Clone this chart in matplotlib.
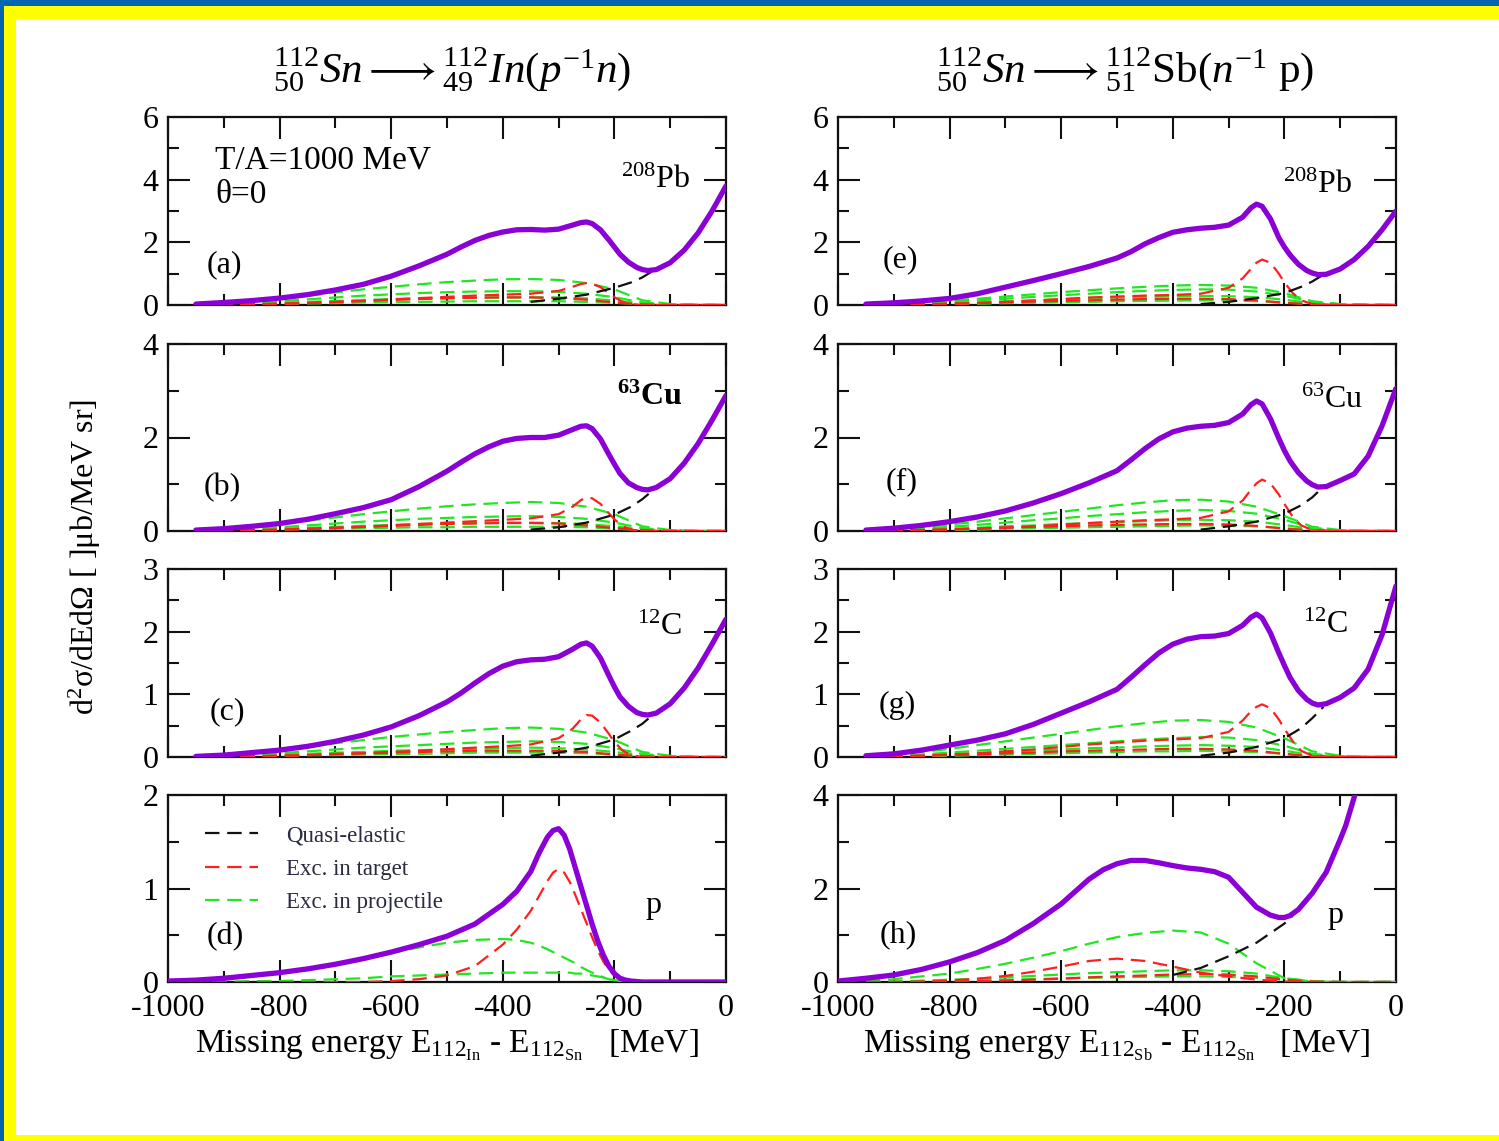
import matplotlib
matplotlib.use('Agg')
import matplotlib.pyplot as plt
from matplotlib.lines import Line2D
from matplotlib.patches import Rectangle
from matplotlib.ticker import MultipleLocator

plt.rcParams['font.family'] = ['Liberation Serif', 'DejaVu Serif']
plt.rcParams['mathtext.fontset'] = 'custom'
plt.rcParams['mathtext.rm'] = 'Liberation Serif'
plt.rcParams['mathtext.it'] = 'Liberation Serif:italic'
plt.rcParams['mathtext.bf'] = 'Liberation Serif:bold'
plt.rcParams['axes.unicode_minus'] = False

# ---------------- data ----------------
XT = [-950, -900, -850, -800, -750, -700, -650, -600, -550, -500, -475, -450, -425, -400,
      -375, -350, -325, -300, -275, -260, -250, -240, -225, -210, -200, -190, -175, -160,
      -150, -140, -125, -100, -75, -50, -25, 0]
XB = [-950, -900, -850, -800, -750, -700, -650, -600, -550, -500, -450, -400, -350, -300,
      -250, -200, -150, -100, -50, 0]
XR = [-950, -850, -750, -650, -550, -450, -400, -350, -300, -275, -260, -250, -240, -225,
      -210, -200, -185, -170, -150, -100, 0]
XQ = [-350, -300, -250, -200, -170, -150, -130]
XD = [-1000, -950, -900, -850, -800, -750, -700, -650, -600, -550, -500, -450, -400, -375,
      -350, -335, -320, -310, -300, -290, -280, -270, -260, -250, -240, -230, -220, -210,
      -200, -190, -180, -170, -150, -100, -50, 0]
XH = [-1000, -950, -900, -850, -800, -750, -700, -650, -600, -550, -525, -500, -475, -450,
      -425, -400, -375, -350, -325, -300, -275, -250, -225, -210, -200, -190, -175, -150,
      -125, -100, -90, -80, -70]
XQH = [-400, -350, -300, -250, -200, -185]

# (a) 208Pb, In channel
a_tot = [0.03, 0.08, 0.14, 0.22, 0.33, 0.48, 0.66, 0.92, 1.25, 1.62, 1.85, 2.06, 2.22, 2.33,
         2.4, 2.41, 2.39, 2.42, 2.55, 2.63, 2.65, 2.6, 2.4, 2.08, 1.85, 1.62, 1.37, 1.2,
         1.13, 1.1, 1.13, 1.35, 1.75, 2.3, 3.0, 3.8]
a_g1 = [0.0, 0.05, 0.12, 0.2, 0.3, 0.4, 0.5, 0.58, 0.66, 0.73, 0.78, 0.82, 0.83, 0.8, 0.7, 0.5, 0.15, 0.03, 0.01, 0.0]
a_g2 = [0.0, 0.03, 0.07, 0.12, 0.18, 0.24, 0.3, 0.34, 0.38, 0.41, 0.43, 0.44, 0.44, 0.42, 0.36, 0.25, 0.08, 0.02, 0.0, 0.0]
a_g3 = [0.0, 0.02, 0.04, 0.07, 0.1, 0.13, 0.16, 0.19, 0.21, 0.23, 0.24, 0.25, 0.25, 0.24, 0.21, 0.14, 0.05, 0.01, 0.0, 0.0]
a_g4 = [0.0, 0.01, 0.02, 0.03, 0.05, 0.06, 0.08, 0.09, 0.1, 0.11, 0.12, 0.12, 0.12, 0.12, 0.1, 0.07, 0.03, 0.01, 0.0, 0.0]
a_r1 = [0.0, 0.02, 0.06, 0.13, 0.22, 0.3, 0.33, 0.36, 0.45, 0.58, 0.67, 0.7, 0.68, 0.57, 0.38, 0.25, 0.1, 0.03, 0.0, 0.0, 0.0]
a_r2 = [0, 0.01, 0.02, 0.04, 0.07, 0.1, 0.13, 0.16, 0.19, 0.21, 0.23, 0.24, 0.24, 0.22, 0.17, 0.08, 0.02, 0, 0, 0]
a_qe = [0.1, 0.2, 0.33, 0.55, 0.72, 0.88, 1.1]

# (b) 63Cu, In channel
b_tot = [0.02, 0.05, 0.1, 0.16, 0.25, 0.37, 0.5, 0.67, 0.95, 1.28, 1.47, 1.65, 1.8, 1.92,
         1.98, 2.0, 2.0, 2.05, 2.17, 2.24, 2.25, 2.19, 1.97, 1.64, 1.43, 1.23, 1.03, 0.93,
         0.89, 0.88, 0.93, 1.12, 1.45, 1.87, 2.37, 2.9]
b_g1 = [0, 0.04, 0.09, 0.15, 0.22, 0.29, 0.36, 0.42, 0.48, 0.53, 0.57, 0.6, 0.62, 0.6, 0.52, 0.36, 0.1, 0.02, 0, 0]
b_g2 = [0, 0.02, 0.05, 0.08, 0.12, 0.16, 0.2, 0.23, 0.26, 0.28, 0.3, 0.31, 0.32, 0.3, 0.26, 0.18, 0.06, 0.01, 0, 0]
b_g3 = [0, 0.01, 0.03, 0.05, 0.07, 0.09, 0.11, 0.13, 0.15, 0.16, 0.17, 0.18, 0.18, 0.17, 0.15, 0.1, 0.03, 0.01, 0, 0]
b_g4 = [0, 0.01, 0.02, 0.03, 0.04, 0.05, 0.06, 0.07, 0.08, 0.08, 0.09, 0.09, 0.09, 0.09, 0.08, 0.05, 0.02, 0, 0, 0]
b_r1 = [0, 0.01, 0.04, 0.09, 0.15, 0.21, 0.24, 0.27, 0.36, 0.52, 0.66, 0.72, 0.7, 0.58, 0.38, 0.25, 0.1, 0.03, 0, 0, 0]
b_r2 = [0, 0.01, 0.02, 0.03, 0.05, 0.07, 0.09, 0.11, 0.13, 0.15, 0.16, 0.17, 0.17, 0.16, 0.12, 0.06, 0.02, 0, 0, 0]
b_qe = [0.03, 0.08, 0.18, 0.35, 0.52, 0.68, 0.88]

# (c) 12C, In channel
c_tot = [0.01, 0.03, 0.07, 0.11, 0.17, 0.25, 0.35, 0.48, 0.66, 0.88, 1.02, 1.18, 1.33, 1.45,
         1.52, 1.55, 1.56, 1.6, 1.72, 1.8, 1.82, 1.77, 1.58, 1.3, 1.12, 0.96, 0.81, 0.71,
         0.68, 0.67, 0.7, 0.85, 1.1, 1.42, 1.8, 2.2]
c_g1 = [0, 0.03, 0.07, 0.11, 0.16, 0.22, 0.27, 0.32, 0.36, 0.4, 0.43, 0.46, 0.47, 0.45, 0.39, 0.27, 0.08, 0.02, 0, 0]
c_g2 = [0, 0.02, 0.04, 0.06, 0.09, 0.12, 0.15, 0.17, 0.19, 0.21, 0.23, 0.24, 0.25, 0.24, 0.21, 0.14, 0.05, 0.01, 0, 0]
c_g3 = [0, 0.01, 0.02, 0.04, 0.05, 0.07, 0.08, 0.1, 0.11, 0.12, 0.13, 0.14, 0.15, 0.14, 0.12, 0.08, 0.03, 0.01, 0, 0]
c_g4 = [0, 0, 0.01, 0.02, 0.03, 0.03, 0.04, 0.05, 0.05, 0.06, 0.07, 0.07, 0.07, 0.07, 0.06, 0.04, 0.01, 0, 0, 0]
c_r1 = [0, 0.01, 0.03, 0.06, 0.1, 0.15, 0.17, 0.2, 0.3, 0.45, 0.6, 0.67, 0.66, 0.55, 0.37, 0.24, 0.1, 0.03, 0, 0, 0]
c_r2 = [0, 0, 0.01, 0.02, 0.03, 0.05, 0.06, 0.07, 0.08, 0.09, 0.1, 0.1, 0.1, 0.1, 0.08, 0.04, 0.01, 0, 0, 0]
c_qe = [0.02, 0.07, 0.15, 0.28, 0.42, 0.53, 0.68]

# (d) p, In channel
d_tot = [0.01, 0.02, 0.04, 0.07, 0.1, 0.14, 0.19, 0.25, 0.32, 0.4, 0.49, 0.62, 0.83, 0.97,
         1.18, 1.38, 1.55, 1.62, 1.64, 1.57, 1.42, 1.22, 1.02, 0.82, 0.62, 0.44, 0.29, 0.17,
         0.09, 0.04, 0.02, 0.01, 0, 0, 0, 0]
d_r1 = [0, 0, 0, 0, 0, 0, 0, 0, 0.01, 0.03, 0.07, 0.17, 0.4, 0.56, 0.76, 0.92, 1.08, 1.17,
        1.21, 1.17, 1.07, 0.93, 0.78, 0.63, 0.48, 0.34, 0.22, 0.13, 0.07, 0.03, 0.01, 0, 0, 0, 0, 0]
d_g1 = [0, 0.01, 0.03, 0.06, 0.09, 0.13, 0.18, 0.24, 0.31, 0.37, 0.42, 0.45, 0.46, 0.45,
        0.42, 0.39, 0.35, 0.32, 0.29, 0.26, 0.23, 0.2, 0.16, 0.13, 0.1, 0.08, 0.05, 0.03,
        0.02, 0.01, 0, 0, 0, 0, 0, 0]
d_g2 = [0, 0, 0, 0.01, 0.01, 0.02, 0.03, 0.04, 0.06, 0.07, 0.08, 0.09, 0.1, 0.1, 0.1, 0.1,
        0.1, 0.1, 0.1, 0.1, 0.1, 0.09, 0.09, 0.08, 0.07, 0.06, 0.05, 0.03, 0.02, 0.01, 0.01,
        0, 0, 0, 0, 0]

# (e) 208Pb, Sb channel
e_tot = [0.03, 0.07, 0.13, 0.21, 0.36, 0.57, 0.78, 1.0, 1.23, 1.5, 1.7, 1.95, 2.15, 2.32,
         2.4, 2.45, 2.48, 2.55, 2.8, 3.1, 3.22, 3.15, 2.75, 2.15, 1.85, 1.6, 1.3, 1.1,
         1.02, 0.97, 0.98, 1.15, 1.45, 1.87, 2.4, 3.0]
e_g1 = [0, 0.03, 0.08, 0.14, 0.2, 0.27, 0.34, 0.41, 0.47, 0.53, 0.58, 0.62, 0.64, 0.62, 0.55, 0.38, 0.12, 0.03, 0.01, 0]
e_g2 = [0, 0.02, 0.06, 0.1, 0.15, 0.2, 0.26, 0.31, 0.36, 0.41, 0.45, 0.48, 0.5, 0.49, 0.43, 0.3, 0.1, 0.02, 0.01, 0]
e_g3 = [0, 0.01, 0.03, 0.06, 0.09, 0.12, 0.15, 0.18, 0.21, 0.24, 0.26, 0.28, 0.29, 0.28, 0.25, 0.17, 0.06, 0.01, 0, 0]
e_g4 = [0, 0.01, 0.02, 0.03, 0.04, 0.06, 0.07, 0.09, 0.1, 0.12, 0.13, 0.14, 0.15, 0.14, 0.12, 0.08, 0.03, 0.01, 0, 0]
e_r1 = [0, 0.02, 0.06, 0.14, 0.24, 0.3, 0.32, 0.36, 0.55, 0.85, 1.15, 1.35, 1.45, 1.35, 1.0, 0.72, 0.38, 0.15, 0.03, 0, 0]
e_r2 = [0, 0.01, 0.02, 0.04, 0.06, 0.09, 0.11, 0.13, 0.15, 0.17, 0.19, 0.2, 0.2, 0.19, 0.15, 0.07, 0.02, 0, 0, 0]
e_qe = [0.03, 0.1, 0.22, 0.38, 0.58, 0.75, 0.97]

# (f) 63Cu, Sb channel
f_tot = [0.02, 0.06, 0.12, 0.2, 0.3, 0.43, 0.6, 0.8, 1.03, 1.29, 1.52, 1.76, 1.97, 2.12,
         2.2, 2.24, 2.26, 2.32, 2.5, 2.7, 2.78, 2.72, 2.4, 1.98, 1.72, 1.5, 1.25, 1.07,
         0.99, 0.94, 0.95, 1.08, 1.22, 1.6, 2.25, 3.05]
f_g1 = [0, 0.03, 0.08, 0.14, 0.2, 0.27, 0.34, 0.41, 0.48, 0.55, 0.61, 0.66, 0.67, 0.63, 0.52, 0.32, 0.09, 0.02, 0, 0]
f_g2 = [0, 0.02, 0.05, 0.09, 0.13, 0.18, 0.23, 0.27, 0.32, 0.36, 0.4, 0.43, 0.45, 0.43, 0.37, 0.24, 0.07, 0.01, 0, 0]
f_g3 = [0, 0.01, 0.03, 0.05, 0.07, 0.1, 0.12, 0.15, 0.17, 0.19, 0.21, 0.23, 0.24, 0.23, 0.2, 0.13, 0.04, 0.01, 0, 0]
f_g4 = [0, 0, 0.01, 0.02, 0.03, 0.05, 0.06, 0.07, 0.08, 0.09, 0.1, 0.11, 0.12, 0.11, 0.1, 0.06, 0.02, 0, 0, 0]
f_r1 = [0, 0.02, 0.05, 0.1, 0.17, 0.23, 0.25, 0.28, 0.42, 0.65, 0.88, 1.02, 1.1, 1.02, 0.78, 0.58, 0.3, 0.12, 0.02, 0, 0]
f_r2 = [0, 0.01, 0.02, 0.03, 0.05, 0.07, 0.09, 0.1, 0.12, 0.13, 0.14, 0.15, 0.15, 0.14, 0.11, 0.05, 0.01, 0, 0, 0]
f_qe = [0.03, 0.1, 0.2, 0.37, 0.55, 0.72, 0.95]

# (g) 12C, Sb channel
g_tot = [0.02, 0.05, 0.11, 0.19, 0.27, 0.37, 0.52, 0.7, 0.88, 1.08, 1.27, 1.47, 1.66, 1.8,
         1.88, 1.92, 1.93, 1.97, 2.1, 2.23, 2.28, 2.22, 1.98, 1.66, 1.46, 1.27, 1.06, 0.92,
         0.86, 0.83, 0.85, 0.95, 1.1, 1.4, 1.95, 2.73]
g_g1 = [0, 0.03, 0.08, 0.13, 0.19, 0.25, 0.31, 0.37, 0.43, 0.49, 0.54, 0.58, 0.59, 0.56, 0.47, 0.3, 0.09, 0.02, 0, 0]
g_g2 = [0, 0.02, 0.04, 0.07, 0.1, 0.13, 0.16, 0.19, 0.22, 0.25, 0.28, 0.3, 0.32, 0.31, 0.27, 0.18, 0.05, 0.01, 0, 0]
g_g3 = [0, 0.01, 0.02, 0.04, 0.06, 0.08, 0.1, 0.12, 0.14, 0.15, 0.17, 0.18, 0.19, 0.18, 0.16, 0.1, 0.03, 0, 0, 0]
g_g4 = [0, 0, 0.01, 0.02, 0.03, 0.04, 0.05, 0.06, 0.07, 0.08, 0.09, 0.09, 0.1, 0.09, 0.08, 0.05, 0.01, 0, 0, 0]
g_r1 = [0, 0.02, 0.06, 0.12, 0.2, 0.26, 0.28, 0.3, 0.4, 0.58, 0.73, 0.8, 0.84, 0.78, 0.6, 0.45, 0.25, 0.1, 0.02, 0, 0]
g_r2 = [0, 0.01, 0.02, 0.03, 0.04, 0.06, 0.07, 0.09, 0.1, 0.11, 0.12, 0.13, 0.13, 0.12, 0.1, 0.05, 0.01, 0, 0, 0]
g_qe = [0.02, 0.07, 0.16, 0.3, 0.46, 0.62, 0.8]

# (h) p, Sb channel
h_tot = [0.02, 0.08, 0.15, 0.27, 0.43, 0.63, 0.89, 1.25, 1.67, 2.2, 2.4, 2.53, 2.6, 2.6,
         2.55, 2.49, 2.44, 2.41, 2.36, 2.24, 1.92, 1.6, 1.43, 1.38, 1.38, 1.42, 1.55, 1.9,
         2.35, 3.05, 3.35, 3.75, 4.15]
h_g1 = [0.02, 0.06, 0.12, 0.18, 0.28, 0.39, 0.52, 0.66, 0.82, 0.96, 1.05, 1.1, 1.06, 0.82, 0.4, 0.08, 0.01, 0, 0, 0]
h_g2 = [0, 0.01, 0.03, 0.05, 0.07, 0.1, 0.13, 0.16, 0.19, 0.21, 0.23, 0.25, 0.25, 0.23, 0.18, 0.08, 0.02, 0, 0, 0]
h_g3 = [0, 0, 0.01, 0.02, 0.03, 0.05, 0.06, 0.08, 0.09, 0.1, 0.11, 0.12, 0.12, 0.11, 0.09, 0.05, 0.01, 0, 0, 0]
h_r1 = [0, 0, 0.01, 0.03, 0.07, 0.13, 0.22, 0.33, 0.45, 0.5, 0.45, 0.33, 0.2, 0.12, 0.05, 0.01, 0, 0, 0, 0]
h_r2 = [0, 0, 0, 0.01, 0.02, 0.03, 0.05, 0.07, 0.1, 0.12, 0.14, 0.16, 0.17, 0.16, 0.12, 0.05, 0.01, 0, 0, 0]
h_qe = [0.15, 0.3, 0.55, 0.84, 1.25, 1.42]

panel_letters = ['(a)', '(b)', '(c)', '(d)', '(e)', '(f)', '(g)', '(h)']
x_ticks = [-1000, -800, -600, -400, -200, 0]
x_tick_labels = ['-1000', '-800', '-600', '-400', '-200', '0']
legend_labels = ['Quasi-elastic', 'Exc. in target', 'Exc. in projectile']

# ---------------- styles ----------------
PURPLE = '#8a00d6'
RED = '#ff1f1f'
GREEN = '#22e622'
DASH = (6.5, 3.5)
sty_tot = dict(color=PURPLE, lw=3.8, zorder=6, solid_capstyle='round', solid_joinstyle='round')
sty_qe = dict(color='#111111', lw=1.6, dashes=DASH, zorder=5)
sty_tg = dict(color=RED, lw=1.6, dashes=DASH, zorder=4)
sty_pj = dict(color=GREEN, lw=1.6, dashes=DASH, zorder=4)

W, H = 1499, 1141
fig = plt.figure(figsize=(W / 100, H / 100), dpi=100)


def fx(x):
    return x / W


def fy(y):
    return 1 - y / H


# frame (blue / yellow / white)
fig.patches.append(Rectangle((0, 0), 1, 1, transform=fig.transFigure,
                             facecolor='#0066b0', edgecolor='none', zorder=-10))
fig.patches.append(Rectangle((fx(4), 0), 1 - fx(4), fy(6), transform=fig.transFigure,
                             facecolor='#ffff00', edgecolor='none', zorder=-9))
fig.patches.append(Rectangle((fx(16), fy(1135)), 1 - fx(16), fy(19) - fy(1135),
                             transform=fig.transFigure, facecolor='white',
                             edgecolor='none', zorder=-8))

cols = [(168, 726), (838, 1396)]
rows = [(117, 305), (344, 531), (569, 757), (795, 982)]
ylims = [(6, 2, 1), (4, 2, 1), (3, 1, 0.5), (2, 1, 0.5)]
ylims_right = [(6, 2, 1), (4, 2, 1), (3, 1, 0.5), (4, 2, 1)]

panels = [
    dict(tot=(XT, a_tot), qe=(XQ, a_qe), tg=[(XR, a_r1), (XB, a_r2)],
         pj=[(XB, a_g1), (XB, a_g2), (XB, a_g3), (XB, a_g4)]),
    dict(tot=(XT, b_tot), qe=(XQ, b_qe), tg=[(XR, b_r1), (XB, b_r2)],
         pj=[(XB, b_g1), (XB, b_g2), (XB, b_g3), (XB, b_g4)]),
    dict(tot=(XT, c_tot), qe=(XQ, c_qe), tg=[(XR, c_r1), (XB, c_r2)],
         pj=[(XB, c_g1), (XB, c_g2), (XB, c_g3), (XB, c_g4)]),
    dict(tot=(XD, d_tot), qe=None, tg=[(XD, d_r1)], pj=[(XD, d_g1), (XD, d_g2)]),
    dict(tot=(XT, e_tot), qe=(XQ, e_qe), tg=[(XR, e_r1), (XB, e_r2)],
         pj=[(XB, e_g1), (XB, e_g2), (XB, e_g3), (XB, e_g4)]),
    dict(tot=(XT, f_tot), qe=(XQ, f_qe), tg=[(XR, f_r1), (XB, f_r2)],
         pj=[(XB, f_g1), (XB, f_g2), (XB, f_g3), (XB, f_g4)]),
    dict(tot=(XT, g_tot), qe=(XQ, g_qe), tg=[(XR, g_r1), (XB, g_r2)],
         pj=[(XB, g_g1), (XB, g_g2), (XB, g_g3), (XB, g_g4)]),
    dict(tot=(XH, h_tot), qe=(XQH, h_qe), tg=[(XB, h_r1), (XB, h_r2)],
         pj=[(XB, h_g1), (XB, h_g2), (XB, h_g3)]),
]

TICKFS = 23
axes = []
for ci, (x0, x1) in enumerate(cols):
    for ri, (yt, yb) in enumerate(rows):
        idx = ci * 4 + ri
        ax = fig.add_axes([fx(x0), fy(yb), (x1 - x0) / W, (yb - yt) / H])
        axes.append(ax)
        p = panels[idx]
        for xs, ys in p['pj']:
            ax.plot(xs, ys, **sty_pj)
        for xs, ys in p['tg']:
            ax.plot(xs, ys, **sty_tg)
        if p['qe'] is not None:
            ax.plot(p['qe'][0], p['qe'][1], **sty_qe)
        ax.plot(p['tot'][0], p['tot'][1], **sty_tot)

        ymax, ymaj, ymin = (ylims if ci == 0 else ylims_right)[ri]
        ax.set_xlim(-1000, 0)
        ax.set_ylim(0, ymax)
        ax.xaxis.set_major_locator(MultipleLocator(200))
        ax.xaxis.set_minor_locator(MultipleLocator(100))
        ax.yaxis.set_major_locator(MultipleLocator(ymaj))
        ax.yaxis.set_minor_locator(MultipleLocator(ymin))
        ax.tick_params(which='both', direction='in', top=True, right=True,
                       width=1.5, color='#111111', labelsize=TICKFS)
        ax.tick_params(which='major', length=16)
        ax.tick_params(which='minor', length=8)
        ax.tick_params(axis='y', pad=7)
        ax.tick_params(axis='x', pad=9)
        for s in ax.spines.values():
            s.set_linewidth(1.6)
            s.set_color('#111111')
        ax.set_yticks([v for v in range(0, int(ymax) + 1, int(ymaj))])
        ax.set_yticklabels([str(v) for v in range(0, int(ymax) + 1, int(ymaj))])
        if ri == 3:
            ax.set_xticks(x_ticks)
            ax.set_xticklabels(x_tick_labels)
        else:
            ax.tick_params(axis='x', labelbottom=False)
        ax.patch.set_alpha(0)

# legend in panel (d)
handles = [Line2D([], [], **{k: v for k, v in sty_qe.items() if k != 'zorder'}),
           Line2D([], [], **{k: v for k, v in sty_tg.items() if k != 'zorder'}),
           Line2D([], [], **{k: v for k, v in sty_pj.items() if k != 'zorder'})]
leg = axes[3].legend(handles, legend_labels, loc='upper left',
                     bbox_to_anchor=((205 - 168) / 558, (982 - 825) / 187),
                     frameon=False, fontsize=16.5, handlelength=2.3, handletextpad=1.25,
                     labelspacing=0.55, borderaxespad=0, borderpad=0)
for t in leg.get_texts():
    t.set_color('#2a2a40')


def ftext(x, y, s, **kw):
    kw.setdefault('ha', 'center')
    kw.setdefault('va', 'center')
    fig.text(fx(x), fy(y), s, **kw)


# titles
ftext(452, 70, r'${}^{112}_{50}Sn \longrightarrow {}^{112}_{49}In(p^{-1}n)$', fontsize=31)
ftext(1125, 70, r'${}^{112}_{50}Sn \longrightarrow {}^{112}_{51}\mathrm{Sb}(n^{-1}\ \mathrm{p})$', fontsize=31)

# axis labels
ftext(85, 557, 'd$^2$σ/dEdΩ [ ]μb/MeV sr]', fontsize=23, rotation=90)
ftext(447, 1045, r'Missing energy E$_{112_{\mathrm{In}}}$ - E$_{112_{\mathrm{Sn}}}$   [MeV]', fontsize=24)
ftext(1117, 1045, r'Missing energy E$_{112_{\mathrm{Sb}}}$ - E$_{112_{\mathrm{Sn}}}$   [MeV]', fontsize=24)

# annotations
ftext(215, 160, 'T/A=1000 MeV', fontsize=24, ha='left')
ftext(215, 195, 'θ=0', fontsize=24, ha='left')
label_pos = [(224, 265), (222, 488), (227, 712), (225, 937),
             (900, 260), (902, 482), (897, 705), (898, 935)]
for (x, y), s in zip(label_pos, panel_letters):
    ftext(x, y, s, fontsize=23)
ftext(690, 180, r'$^{208}$Pb', fontsize=23, ha='right')
ftext(1352, 185, r'$^{208}$Pb', fontsize=23, ha='right')
ftext(683, 397, r'$^{\mathbf{63}}$Cu', fontsize=23, ha='right', fontweight='bold')
ftext(1363, 400, r'$^{63}$Cu', fontsize=23, ha='right')
ftext(682, 627, r'$^{12}$C', fontsize=23, ha='right')
ftext(1348, 625, r'$^{12}$C', fontsize=23, ha='right')
ftext(653, 905, 'p', fontsize=23)
ftext(1335, 915, 'p', fontsize=23)

fig.savefig('out.png', dpi=100)
